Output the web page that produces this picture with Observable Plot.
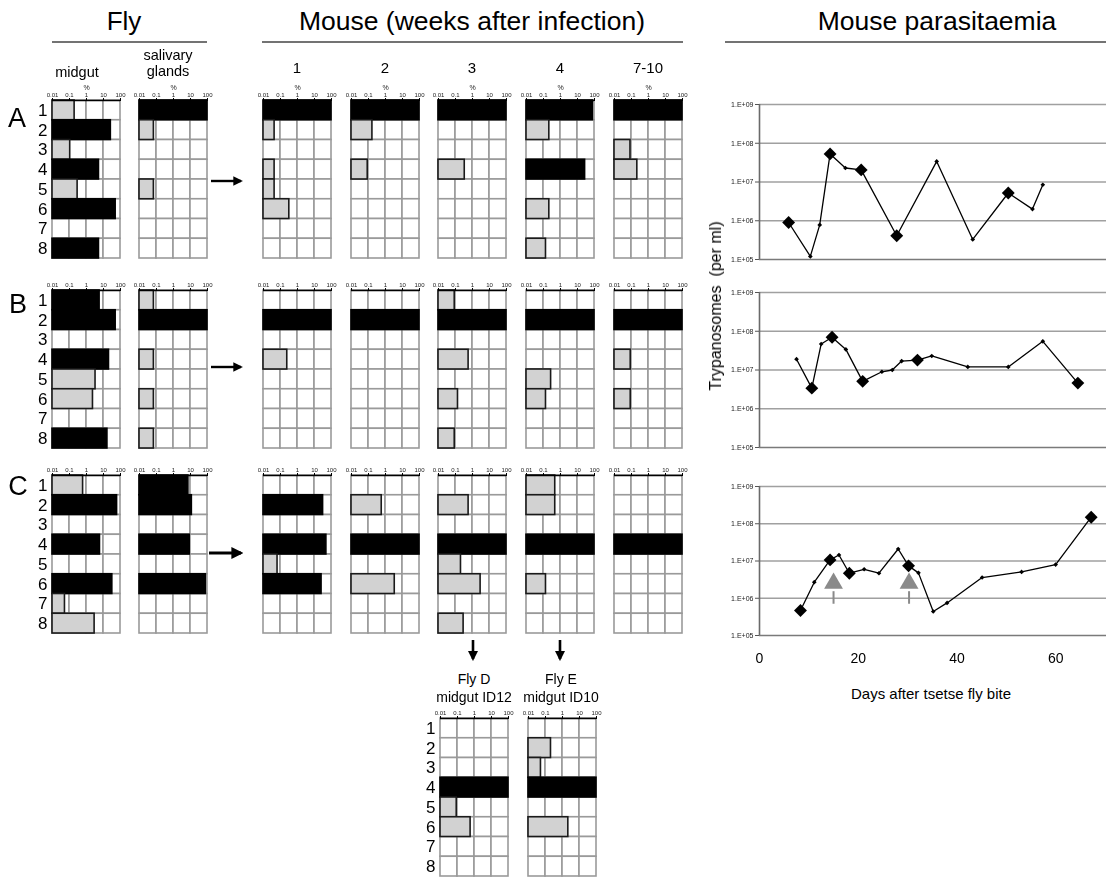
<!DOCTYPE html>
<html><head><meta charset="utf-8">
<script src="https://cdn.jsdelivr.net/npm/d3@7"></script>
<script src="https://cdn.jsdelivr.net/npm/@observablehq/plot@0.6"></script>
<style>
body{margin:0;background:#fff;font-family:"Liberation Sans",Arial,sans-serif;}
#page{position:relative;width:1106px;height:879px;overflow:hidden;background:#fff;}
.box{position:absolute;will-change:transform;}
.t{position:absolute;white-space:pre;color:#000;line-height:1;transform:translate(-50%,-50%);}
</style></head><body><div id="page"></div>
<script>
// ---------- DATA ----------
const rows = [1, 2, 3, 4, 5, 6, 7, 8];
const pctTicks = [0.01, 0.1, 1, 10, 100];
const weekLabels = ["1", "2", "3", "4", "7-10"];

// [row (trypanosome clone), % of population, "M" = dominant (black) / "m" = minor (grey)]
const A_midgut   = [[1,0.2,"m"],[2,27,"M"],[3,0.11,"m"],[4,5.4,"M"],[5,0.3,"m"],[6,52,"M"],[8,5.4,"M"]];
const A_salivary = [[1,100,"M"],[2,0.07,"m"],[5,0.07,"m"]];
const A_wk1      = [[1,100,"M"],[2,0.045,"m"],[4,0.045,"m"],[5,0.045,"m"],[6,0.33,"m"]];
const A_wk2      = [[1,100,"M"],[2,0.17,"m"],[4,0.09,"m"]];
const A_wk3      = [[1,100,"M"],[4,0.35,"m"]];
const A_wk4      = [[1,80,"M"],[2,0.22,"m"],[4,28,"M"],[6,0.22,"m"],[8,0.14,"m"]];
const A_wk7_10   = [[1,100,"M"],[3,0.087,"m"],[4,0.22,"m"]];

const B_midgut   = [[1,5.9,"M"],[2,52,"M"],[4,21,"M"],[5,3.4,"m"],[6,2.4,"m"],[8,17,"M"]];
const B_salivary = [[1,0.07,"m"],[2,100,"M"],[4,0.07,"m"],[6,0.07,"m"],[8,0.07,"m"]];
const B_wk1      = [[2,100,"M"],[4,0.25,"m"]];
const B_wk2      = [[2,100,"M"]];
const B_wk3      = [[1,0.09,"m"],[2,100,"M"],[4,0.59,"m"],[6,0.14,"m"],[8,0.09,"m"]];
const B_wk4      = [[2,100,"M"],[5,0.28,"m"],[6,0.14,"m"]];
const B_wk7_10   = [[2,100,"M"],[4,0.09,"m"],[6,0.09,"m"]];

const C_midgut   = [[1,0.63,"m"],[2,63,"M"],[4,6.2,"M"],[6,33,"M"],[7,0.054,"m"],[8,3.0,"m"]];
const C_salivary = [[1,7.5,"M"],[2,12,"M"],[4,9,"M"],[6,80,"M"]];
const C_wk1      = [[2,32,"M"],[4,50,"M"],[5,0.067,"m"],[6,26,"M"]];
const C_wk2      = [[2,0.6,"m"],[4,100,"M"],[6,3.5,"m"]];
const C_wk3      = [[2,0.59,"m"],[4,100,"M"],[5,0.21,"m"],[6,3.0,"m"],[8,0.3,"m"]];
const C_wk4      = [[1,0.49,"m"],[2,0.49,"m"],[4,100,"M"],[6,0.14,"m"]];
const C_wk7_10   = [[4,100,"M"]];

const D_midgut   = [[4,100,"M"],[5,0.09,"m"],[6,0.59,"m"]];
const E_midgut   = [[2,0.21,"m"],[3,0.054,"m"],[4,100,"M"],[6,2.2,"m"]];

// Mouse parasitaemia (days after bite, trypanosomes per ml, large marker = sampled)
const A_days  = [5.9, 10.3, 12.2, 14.3, 17.4, 20.6, 27.8, 35.9, 43.2, 50.4, 55.3, 57.4];
const A_tryps = [9e5, 1.2e5, 7.8e5, 5.3e7, 2.3e7, 2.05e7, 4.1e5, 3.4e7, 3.3e5, 5.2e6, 2e6, 8.5e6];
const A_big   = [1, 0, 0, 1, 0, 1, 1, 0, 0, 1, 0, 0];
const B_days  = [7.5, 10.6, 12.5, 14.7, 17.5, 20.9, 24.8, 26.9, 28.8, 32.0, 34.9, 42.2, 50.4, 57.4, 64.5];
const B_tryps = [1.9e7, 3.4e6, 4.7e7, 7e7, 3.4e7, 5.1e6, 9e6, 1e7, 1.7e7, 1.8e7, 2.3e7, 1.2e7, 1.2e7, 5.5e7, 4.6e6];
const B_big   = [0, 1, 0, 1, 0, 1, 0, 0, 0, 1, 0, 0, 0, 0, 1];
const C_days  = [8.3, 11.1, 14.3, 16.1, 18.2, 21.2, 24.2, 28.1, 30.2, 32.2, 35.2, 38.0, 45.1, 53.1, 60.0, 67.2];
const C_tryps = [4.7e5, 2.7e6, 1.07e7, 1.45e7, 4.7e6, 6e6, 4.7e6, 2.1e7, 7.4e6, 4.8e6, 4.4e5, 7.5e5, 3.6e6, 5.1e6, 8e6, 1.5e8];
const C_big   = [1, 0, 1, 0, 1, 0, 0, 0, 1, 0, 0, 0, 0, 0, 0, 1];
const C_arrowDays = [15.0, 30.3];
const C_arrowHead = 2.5e6, C_arrowStemTop = 1.5e6, C_arrowStemBottom = 6.9e5;
const trypTicks = [1e5, 1e6, 1e7, 1e8, 1e9];
const dayTicks = [0, 20, 40, 60];

// ---------- RENDER ----------
const page = document.getElementById("page");
const FONT = "'Liberation Sans', Arial, sans-serif";
const baseStyle = {background: "transparent", overflow: "visible", maxWidth: "none", fontFamily: FONT, color: "#000"};

function place(el, x, y) {
  const d = document.createElement("div");
  d.className = "box"; d.style.left = x + "px"; d.style.top = y + "px";
  d.appendChild(el); page.appendChild(d);
}
function txt(s, x, y, size, extra = "") {
  const d = document.createElement("div");
  d.className = "t"; d.textContent = s;
  d.style.cssText += `left:${x}px;top:${y}px;font-size:${size}px;${extra}`;
  page.appendChild(d);
}

const GW = 68, GH = 158;
const cells = rows.flatMap(r => d3.pairs(pctTicks).map(([lo, hi]) => ({row: r, lo, hi})));

function grid(data, gx, gtop, {labels = false, pct = false} = {}) {
  const mL = labels ? 30 : 8, mR = 10, mT = 24, mB = 3;
  const bars = data.map(([row, p, clone]) => ({row, p, clone}));
  const svg = Plot.plot({
    width: GW + mL + mR, height: GH + mT + mB,
    marginLeft: mL, marginRight: mR, marginTop: mT, marginBottom: mB,
    style: baseStyle,
    x: {type: "log", domain: [0.01, 100], axis: null},
    y: labels ? {domain: [0, 8], reverse: true} : {domain: [0, 8], reverse: true, axis: null},
    marks: [
      Plot.rect(cells, {x1: "lo", x2: "hi", y1: d => d.row - 1, y2: "row", fill: "white", stroke: "#9a9a9a", strokeWidth: 1.6}),
      Plot.rect(bars, {x1: () => 0.01, x2: "p", y1: d => d.row - 1, y2: "row",
        fill: d => d.clone === "M" ? "#000000" : "#d2d2d2",
        stroke: d => d.clone === "M" ? "#000000" : "#1a1a1a", strokeWidth: 1.6}),
      Plot.ruleY([0], {stroke: "#000", strokeWidth: 1.5}),
      Plot.axisX({anchor: "top", ticks: pctTicks, tickFormat: d => String(d), tickSize: 3, tickPadding: 1, fontSize: 6, label: null, fill: "#222"}),
      labels ? Plot.axisY({ticks: rows.map(r => r - 0.5), tickFormat: d => String(d + 0.5), tickSize: 0, tickPadding: 5, fontSize: 17, label: null}) : null,
      pct ? Plot.text(["%"], {text: d => d, frameAnchor: "top", dy: -15, fontSize: 7, fill: "#222"}) : null
    ]
  });
  place(svg, gx - mL, gtop - mT);
}

const weekX = [263, 351, 438, 526, 614];
const panels = [
  {top: 100, midgut: A_midgut, sal: A_salivary, weeks: [A_wk1, A_wk2, A_wk3, A_wk4, A_wk7_10], pct: true},
  {top: 290, midgut: B_midgut, sal: B_salivary, weeks: [B_wk1, B_wk2, B_wk3, B_wk4, B_wk7_10], pct: false},
  {top: 475, midgut: C_midgut, sal: C_salivary, weeks: [C_wk1, C_wk2, C_wk3, C_wk4, C_wk7_10], pct: false}
];
for (const p of panels) {
  grid(p.midgut, 52, p.top, {labels: true, pct: p.pct});
  grid(p.sal, 139, p.top, {pct: p.pct});
  p.weeks.forEach((w, i) => grid(w, weekX[i], p.top, {pct: p.pct}));
}
grid(D_midgut, 440, 718, {labels: true});
grid(E_midgut, 528, 718);

function parasitaemia(days, tryps, big, ytop, plotH, {xAxis = false, arrows = null} = {}) {
  const data = days.map((d, i) => ({day: d, n: tryps[i], big: !!big[i]}));
  const mL = 59, mR = 0, mT = 10, mB = xAxis ? 40 : 6;
  const svg = Plot.plot({
    width: 406, height: plotH + mT + mB,
    marginLeft: mL, marginRight: mR, marginTop: mT, marginBottom: mB,
    style: baseStyle,
    x: xAxis ? {domain: [0, 70.3]} : {domain: [0, 70.3], axis: null},
    y: {type: "log", domain: [1e5, 1e9]},
    marks: [
      Plot.gridY({ticks: trypTicks.slice(1), stroke: "#a0a0a0", strokeOpacity: 1, strokeWidth: 1.5}),
      Plot.ruleY([1e5], {stroke: "#7a7a7a", strokeWidth: 1.5}),
      Plot.ruleX([0], {stroke: "#6a6a6a", strokeWidth: 1.6}),
      Plot.axisY({ticks: trypTicks, tickFormat: d => `1.E+0${Math.round(Math.log10(d))}`, tickSize: 4, tickPadding: 2, fontSize: 7, label: null, stroke: "#555", fill: "#222"}),
      xAxis ? Plot.axisX({ticks: dayTicks, tickSize: 0, tickPadding: 18, fontSize: 14, label: null}) : null,
      arrows ? Plot.ruleX(arrows, {x: d => d, y1: C_arrowStemBottom, y2: C_arrowStemTop, stroke: "#8a8a8a", strokeWidth: 2}) : null,
      arrows ? Plot.dot(arrows, {x: d => d, y: C_arrowHead, symbol: "triangle", r: 7, fill: "#8a8a8a"}) : null,
      Plot.line(data, {x: "day", y: "n", stroke: "#000", strokeWidth: 1.3}),
      Plot.dot(data, {filter: d => !d.big, x: "day", y: "n", symbol: "diamond2", r: 2.1, fill: "#000"}),
      Plot.dot(data, {filter: d => d.big, x: "day", y: "n", symbol: "diamond2", r: 5.8, fill: "#000"})
    ]
  });
  place(svg, 700, ytop - mT);
}
parasitaemia(A_days, A_tryps, A_big, 104, 155);
parasitaemia(B_days, B_tryps, B_big, 292, 155);
parasitaemia(C_days, C_tryps, C_big, 486, 149, {xAxis: true, arrows: C_arrowDays});

// ---------- decorations (headers, underlines, arrows) ----------
const ns = "http://www.w3.org/2000/svg";
const deco = document.createElementNS(ns, "svg");
deco.setAttribute("width", 1106); deco.setAttribute("height", 879);
deco.style.cssText = "position:absolute;left:0;top:0;";
deco.innerHTML = `
  <defs><marker id="ah" viewBox="0 0 10 10" refX="8" refY="5" markerWidth="4" markerHeight="4" orient="auto">
    <path d="M0,0 L10,5 L0,10 z" fill="#000"/></marker></defs>
  <g stroke="#444" stroke-width="1.6">
    <line x1="52" x2="207" y1="42" y2="42"/>
    <line x1="262" x2="683" y1="42" y2="42"/>
    <line x1="725" x2="1106" y1="42" y2="42"/>
  </g>
  <g stroke="#000" marker-end="url(#ah)">
    <line x1="211" x2="241" y1="181" y2="181" stroke-width="2.4"/>
    <line x1="211" x2="241" y1="367" y2="367" stroke-width="2.4"/>
    <line x1="209" x2="241" y1="553" y2="553" stroke-width="3"/>
    <line x1="473" x2="473" y1="640" y2="659" stroke-width="2.6"/>
    <line x1="560" x2="560" y1="640" y2="659" stroke-width="2.6"/>
  </g>`;
page.insertBefore(deco, page.firstChild);

txt("Fly", 124, 21, 26);
txt("Mouse (weeks after infection)", 472, 21, 26.5);
txt("Mouse parasitaemia", 937, 21, 26.5);
txt("midgut", 77, 72, 14.5);
txt("salivary", 168, 55, 14.5);
txt("glands", 168, 71, 14.5);
const weekCenters = weekX.map(x => x + GW / 2);
weekLabels.forEach((w, i) => txt(w, weekCenters[i], 67, 15));
txt("A", 17, 118, 27);
txt("B", 18, 304, 27);
txt("C", 18, 486, 27);
txt("Fly D", 474, 679, 14);
txt("midgut ID12", 474, 697, 14);
txt("Fly E", 561, 679, 14);
txt("midgut ID10", 561, 697, 14);
txt("Trypanosomes  (per ml)", 716, 306, 16, "transform:translate(-50%,-50%) rotate(-90deg);");
txt("Days after tsetse fly bite", 931, 693, 15);
</script></body></html>
